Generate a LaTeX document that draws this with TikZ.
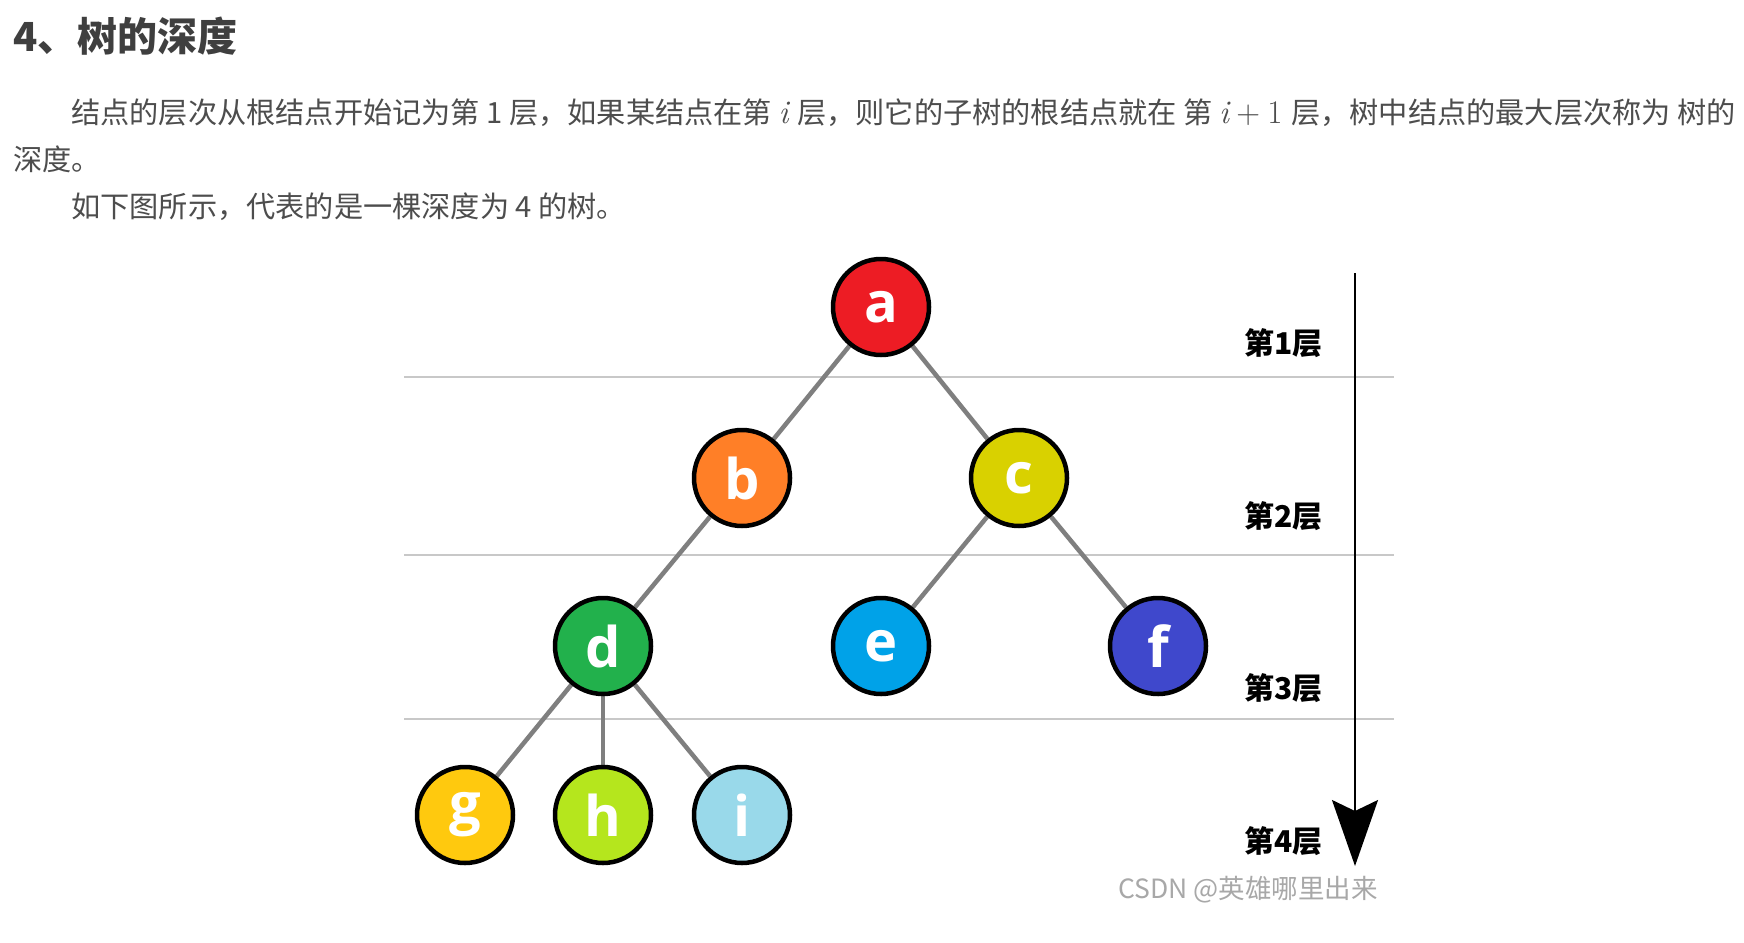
\documentclass[tikz,border=0pt]{standalone}
\usepackage{fontspec}
\newfontfamily\cjk{Noto Sans CJK SC}
\newfontfamily\lett{Open Sans}
\newfontfamily\lmr{Latin Modern Roman}
\newcommand{\mi}{{\lmr\itshape\fontsize{33}{34}\selectfont i}}
\newcommand{\mr}[1]{{\lmr\fontsize{33}{34}\selectfont #1}}
\usetikzlibrary{arrows.meta,backgrounds}
\definecolor{ca}{HTML}{ED1C24}
\definecolor{cb}{HTML}{FF7F27}
\definecolor{cc}{HTML}{D9D100}
\definecolor{cd}{HTML}{22B14C}
\definecolor{ce}{HTML}{00A2E8}
\definecolor{cf}{HTML}{3F48CC}
\definecolor{cg}{HTML}{FFC90E}
\definecolor{ch}{HTML}{B5E61D}
\definecolor{ci}{HTML}{99D9EA}
\definecolor{edgegray}{HTML}{7F7F7F}
\definecolor{rulegray}{HTML}{C8C8C8}
\definecolor{bodytext}{HTML}{4D4D4D}
\definecolor{titletext}{HTML}{3F3F3F}
\definecolor{wmgray}{HTML}{A8A8A8}
\begin{document}
\begin{tikzpicture}[x=1pt,y=-1pt,
  tnode/.style={circle,draw=black,line width=4.5pt,minimum size=96pt,inner sep=0pt,
    text=white,font=\lett\bfseries\fontsize{56}{56}\selectfont},
  edge/.style={draw=edgegray,line width=4.5pt},
  levelrule/.style={draw=rulegray,line width=2pt},
  txt/.style={anchor=base west,inner sep=0pt,text=bodytext,font=\cjk\fontsize{29.2}{34}\selectfont},
  lvl/.style={anchor=base west,inner sep=0pt,text=black,font=\cjk\bfseries\fontsize{30}{36}\selectfont}]
\useasboundingbox (0,0) rectangle (1744,942);

% header text
\node[anchor=base west,inner sep=0pt,text=titletext,font=\cjk\bfseries\fontsize{40}{48}\selectfont] (title) at (13,52) {4、树的深度};
\node[txt] (p1) at (71,123) {结点的层次从根结点开始记为第 1 层，如果某结点在第 \mi\hspace{0.3em}层，则它的子树的根结点就在 第 \mi\hspace{0.25em}\mr{+}\hspace{0.25em}\mr{1}\hspace{0.3em}层，树中结点的最大层次称为 树的};
\node[txt] (p2) at (13,170) {深度。};
\node[txt] (p3) at (71,217) {如下图所示，代表的是一棵深度为 4 的树。};

% tree nodes
\node[tnode,fill=ca] (a) at (881,307) {a};
\node[tnode,fill=cb] (b) at (742,478) {b};
\node[tnode,fill=cc] (c) at (1019,478) {c};
\node[tnode,fill=cd] (d) at (603,646) {d};
\node[tnode,fill=ce] (e) at (881,646) {e};
\node[tnode,fill=cf] (f) at (1158,646) {f};
\node[tnode,fill=cg] (g) at (465,815) {g};
\node[tnode,fill=ch] (h) at (603,815) {h};
\node[tnode,fill=ci] (i) at (742,815) {i};

\begin{scope}[on background layer]
  \fill[white] (0,0) rectangle (1744,942);
  \draw[levelrule] (404,377) -- (1394,377);
  \draw[levelrule] (404,555) -- (1394,555);
  \draw[levelrule] (404,719) -- (1394,719);
  \draw[edge] (a) -- (b);
  \draw[edge] (a) -- (c);
  \draw[edge] (b) -- (d);
  \draw[edge] (c) -- (e);
  \draw[edge] (c) -- (f);
  \draw[edge] (d) -- (g);
  \draw[edge] (d) -- (h);
  \draw[edge] (d) -- (i);
\end{scope}

% level labels
\node[lvl] (l1) at (1244,354) {第1层};
\node[lvl] (l2) at (1244,527) {第2层};
\node[lvl] (l3) at (1244,699) {第3层};
\node[lvl] (l4) at (1244,852) {第4层};

% depth arrow
\coordinate (arrtop) at (1355,273);
\coordinate (arrbot) at (1355,866);
\draw[line width=2pt,-{Stealth[length=66pt,width=46pt,inset=11pt]}] (arrtop) -- (arrbot);

% watermark
\node[anchor=base west,inner sep=0pt,text=wmgray,font=\cjk\fontsize{26.5}{30}\selectfont] (wm) at (1118,898) {CSDN @英雄哪里出来};
\end{tikzpicture}
\end{document}
